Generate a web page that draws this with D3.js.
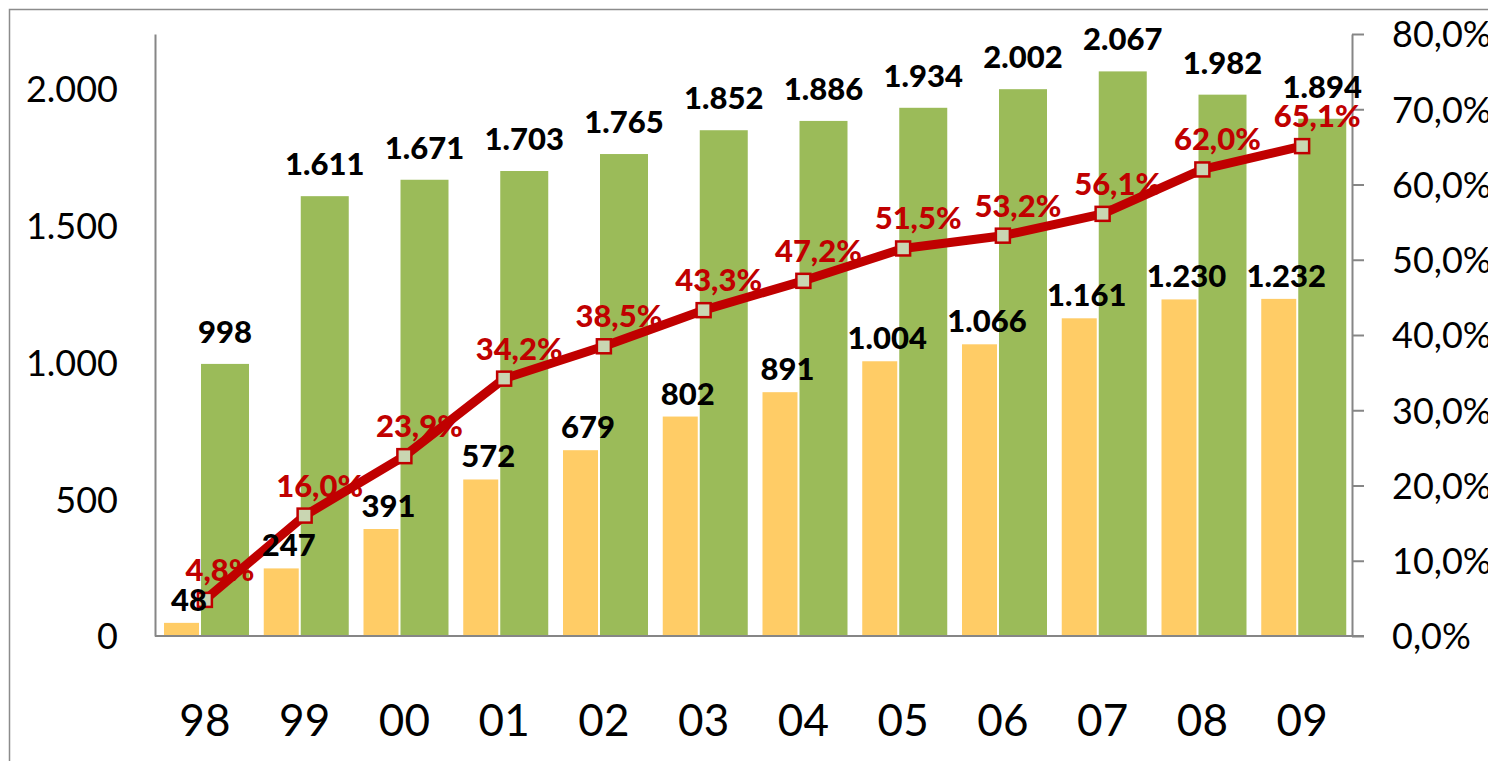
<!DOCTYPE html>
<html>
<head>
<meta charset="utf-8">
<script src="https://cdn.jsdelivr.net/npm/d3@7"></script>
<style>
  body { margin: 0; background: #fff; }
  svg { display: block; font-family: Lato, "Open Sans", sans-serif; }
</style>
</head>
<body>
<svg width="1488" height="761"></svg>
<script>
var years = ["98", "99", "00", "01", "02", "03", "04", "05", "06", "07", "08", "09"];
var yellowVals = [48, 247, 391, 572, 679, 802, 891, 1004, 1066, 1161, 1230, 1232];
var greenVals = [998, 1611, 1671, 1703, 1765, 1852, 1886, 1934, 2002, 2067, 1982, 1894];
var shareVals = [4.8, 16.0, 23.9, 34.2, 38.5, 43.3, 47.2, 51.5, 53.2, 56.1, 62.0, 65.1];
var leftTicks = [0, 500, 1000, 1500, 2000];
var rightTicks = [0, 10, 20, 30, 40, 50, 60, 70, 80];

var svg = d3.select("svg");
var plotL = 155, plotR = 1352, plotT = 34, plotB = 636;

var fmtInt = function (v) {
  return d3.format(",")(v).replace(/,/g, ".");
};
var fmtPct = function (v) {
  return v.toFixed(1).replace(".", ",") + "%";
};

var x = d3.scaleBand().domain(years).range([plotL, plotR]).padding(0);
var y = d3.scaleLinear().domain([0, 2200]).range([plotB, plotT]);
var y2 = d3.scaleLinear().domain([0, 80]).range([plotB, plotT]);
var bw = x.bandwidth();

// outer frame
svg.append("rect")
  .attr("x", 9.5).attr("y", 9.5)
  .attr("width", 1500).attr("height", 800)
  .attr("fill", "none").attr("stroke", "#8c8c8c").attr("stroke-width", 1.5);

// bars
var barW = 50;
svg.append("g").selectAll("rect")
  .data(yellowVals)
  .enter().append("rect")
  .attr("x", function (d, i) { return x(years[i]) + 9; })
  .attr("y", function (d) { return y(d); })
  .attr("width", barW)
  .attr("height", function (d) { return plotB - y(d); })
  .attr("fill", "#FFCC66");

svg.append("g").selectAll("rect")
  .data(greenVals)
  .enter().append("rect")
  .attr("x", function (d, i) { return x(years[i]) + 45; })
  .attr("y", function (d) { return y(d); })
  .attr("width", barW)
  .attr("height", function (d) { return plotB - y(d); })
  .attr("fill", "#9BBB59")
  .attr("stroke", "#fff")
  .attr("stroke-width", 2);

// axes
var axisCol = "#868686";
var gl = svg.append("g").attr("transform", "translate(" + plotL + ",0)")
  .call(d3.axisLeft(y).tickValues(leftTicks).tickSize(0).tickFormat(fmtInt));
gl.select(".domain").attr("stroke", axisCol).attr("stroke-width", 2);
gl.selectAll("text")
  .attr("x", -37).attr("dy", "0.36em")
  .attr("font-size", 36).attr("fill", "#000")
  .style("font-family", "Lato, sans-serif");

var gr = svg.append("g").attr("transform", "translate(" + plotR + ",0)")
  .call(d3.axisRight(y2).tickValues(rightTicks).tickSize(12).tickSizeOuter(0).tickFormat(fmtPct));
gr.select(".domain").attr("stroke", axisCol).attr("stroke-width", 2);
gr.selectAll(".tick line").attr("stroke", axisCol).attr("stroke-width", 2);
gr.selectAll("text")
  .attr("x", 40).attr("dy", "0.36em")
  .attr("font-size", 36).attr("fill", "#000")
  .style("font-family", "Lato, sans-serif");

var gb = svg.append("g").attr("transform", "translate(0," + plotB + ")")
  .call(d3.axisBottom(x).tickSize(0).tickSizeOuter(0));
gb.select(".domain").attr("stroke", axisCol).attr("stroke-width", 2)
  .attr("d", "M" + plotL + ",0H" + (plotR + 12));
gb.selectAll("text")
  .attr("y", 100).attr("dy", 0)
  .attr("font-size", 44).attr("fill", "#000")
  .style("font-family", "Lato, sans-serif");

// line
var line = d3.line()
  .x(function (d, i) { return x(years[i]) + bw / 2; })
  .y(function (d) { return y2(d); });

svg.append("path")
  .datum(shareVals)
  .attr("d", line)
  .attr("fill", "none")
  .attr("stroke", "#C00000")
  .attr("stroke-width", 9)
  .attr("stroke-linejoin", "round");

svg.append("g").selectAll("rect")
  .data(shareVals)
  .enter().append("rect")
  .attr("x", function (d, i) { return x(years[i]) + bw / 2 - 7; })
  .attr("y", function (d) { return y2(d) - 7; })
  .attr("width", 14).attr("height", 14)
  .attr("fill", "#C9D6B2")
  .attr("stroke", "#C00000")
  .attr("stroke-width", 2.5);

// data labels
var lbl = svg.append("g")
  .attr("font-weight", 900)
  .attr("font-size", 31)
  .attr("text-anchor", "middle");

lbl.selectAll(".ly")
  .data(yellowVals)
  .enter().append("text")
  .attr("x", function (d, i) { return x(years[i]) + 9 + 25; })
  .attr("y", function (d) { return y(d) - 12; })
  .attr("fill", "#000")
  .text(fmtInt);

lbl.selectAll(".lg")
  .data(greenVals)
  .enter().append("text")
  .attr("x", function (d, i) { return x(years[i]) + 45 + 25; })
  .attr("y", function (d) { return y(d) - 20; })
  .attr("fill", "#000")
  .text(fmtInt);

lbl.selectAll(".lp")
  .data(shareVals)
  .enter().append("text")
  .attr("x", function (d, i) { return x(years[i]) + bw / 2 + 15; })
  .attr("y", function (d) { return y2(d) - 19; })
  .attr("fill", "#C00000")
  .text(fmtPct);
</script>
</body>
</html>
